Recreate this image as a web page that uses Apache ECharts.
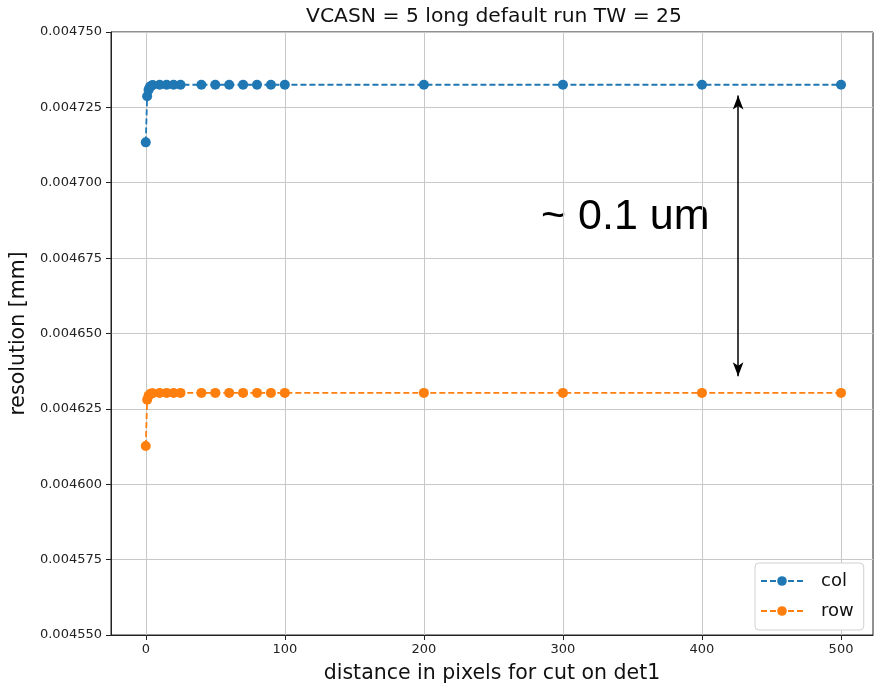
<!DOCTYPE html>
<html>
<head>
<meta charset="utf-8">
<script src="https://cdn.jsdelivr.net/npm/echarts@6/dist/echarts.min.js"></script>
<style>
  html, body { margin: 0; padding: 0; background: #fff; }
  #main { width: 875px; height: 689px; }
</style>
</head>
<body>
<div id="main"></div>
<script>
// distance cut values (x)
var cuts = [0, 1, 2, 3, 4, 5, 10, 15, 20, 25, 40, 50, 60, 70, 80, 90, 100, 200, 300, 400, 500];
// resolution [mm]
var colRes = [0.0047134, 0.0047287, 0.0047308, 0.0047318, 0.0047322, 0.0047324, 0.0047325, 0.0047325, 0.0047325, 0.0047325,
  0.0047325, 0.0047325, 0.0047325, 0.0047325, 0.0047325, 0.0047325, 0.0047325, 0.0047325, 0.0047325, 0.0047325, 0.0047325];
var rowRes = [0.0046127, 0.0046280, 0.0046293, 0.0046299, 0.0046301, 0.0046302, 0.0046303, 0.0046303, 0.0046303, 0.0046303,
  0.0046303, 0.0046303, 0.0046303, 0.0046303, 0.0046303, 0.0046303, 0.0046303, 0.0046303, 0.0046303, 0.0046303, 0.0046303];

var xTicks = [0, 100, 200, 300, 400, 500];
var yTicks = [0.00455, 0.004575, 0.0046, 0.004625, 0.00465, 0.004675, 0.0047, 0.004725, 0.00475];

// the double arrow annotation (data coords)
var arrowX = 426;
var arrowTop = 0.0047289;
var arrowBottom = 0.0046358;

function pairs(xs, ys) {
  var out = [];
  for (var i = 0; i < xs.length; i++) out.push([xs[i], ys[i]]);
  return out;
}

var myChart = echarts.init(document.getElementById('main'));
var font = 'DejaVu Sans';

myChart.setOption({
  animation: false,
  title: {
    text: 'VCASN = 5 long default run TW = 25',
    left: 489, top: 2, textAlign: 'center',
    textStyle: { fontFamily: font, fontSize: 20.3, fontWeight: 'normal', color: '#111' }
  },
  grid: {
    left: 111, top: 32, width: 762, height: 606,
    show: true, borderColor: '#222', borderWidth: 1
  },
  legend: {
    left: 755, top: 563, orient: 'vertical',
    backgroundColor: '#fff', borderColor: '#d0d0d0', borderWidth: 1, borderRadius: 4,
    padding: [9, 10, 10, 5], itemGap: 12, itemWidth: 42, itemHeight: 12,
    textStyle: { fontFamily: font, fontSize: 18, color: '#111', padding: [0, 0, 0, 13] },
    data: ['col', 'row']
  },
  xAxis: {
    type: 'value', min: -25, max: 523,
    name: 'distance in pixels for cut on det1',
    nameLocation: 'middle', nameGap: 28,
    nameTextStyle: { fontFamily: font, fontSize: 20.5, color: '#111' },
    axisLine: { show: true, onZero: false, lineStyle: { color: '#222', width: 1 } },
    axisTick: { show: true, length: 5, inside: false, customValues: xTicks, lineStyle: { color: '#222' } },
    axisLabel: { customValues: xTicks, fontFamily: font, fontSize: 13, color: '#222', margin: 8 },
    splitLine: { show: true, lineStyle: { color: '#c8c8c8', width: 1 } }
  },
  yAxis: {
    type: 'value', min: 0.00455, max: 0.00475,
    name: 'resolution [mm]',
    nameLocation: 'middle', nameGap: 77, nameRotate: 90,
    nameTextStyle: { fontFamily: font, fontSize: 20.5, color: '#111' },
    axisLine: { show: true, onZero: false, lineStyle: { color: '#222', width: 1 } },
    axisTick: { show: true, length: 5, customValues: yTicks, lineStyle: { color: '#222' } },
    axisLabel: {
      customValues: yTicks, fontFamily: font, fontSize: 13, color: '#222', margin: 9,
      formatter: function (v) { return v.toFixed(6); }
    },
    splitLine: { show: true, lineStyle: { color: '#c8c8c8', width: 1 } }
  },
  series: [
    {
      name: 'col', type: 'line', data: pairs(cuts, colRes),
      symbol: 'circle', symbolSize: 10,
      itemStyle: { color: '#1f77b4' },
      lineStyle: { color: '#1f77b4', width: 1.8, type: [6, 3] },
      markLine: {
        silent: true, symbol: ['arrow', 'arrow'], symbolSize: [8, 14],
        label: { show: false },
        lineStyle: { color: '#000', width: 1.5, type: 'solid' },
        data: [[{ coord: [arrowX, arrowTop] }, { coord: [arrowX, arrowBottom] }]]
      }
    },
    {
      name: 'row', type: 'line', data: pairs(cuts, rowRes),
      symbol: 'circle', symbolSize: 10,
      itemStyle: { color: '#ff7f0e' },
      lineStyle: { color: '#ff7f0e', width: 1.8, type: [6, 3] }
    }
  ],
  graphic: [{
    type: 'text', left: 541, top: 196,
    style: { text: '~ 0.1 um', fontFamily: 'Liberation Sans', fontSize: 43, fill: '#000' }
  }]
});
</script>
</body>
</html>
